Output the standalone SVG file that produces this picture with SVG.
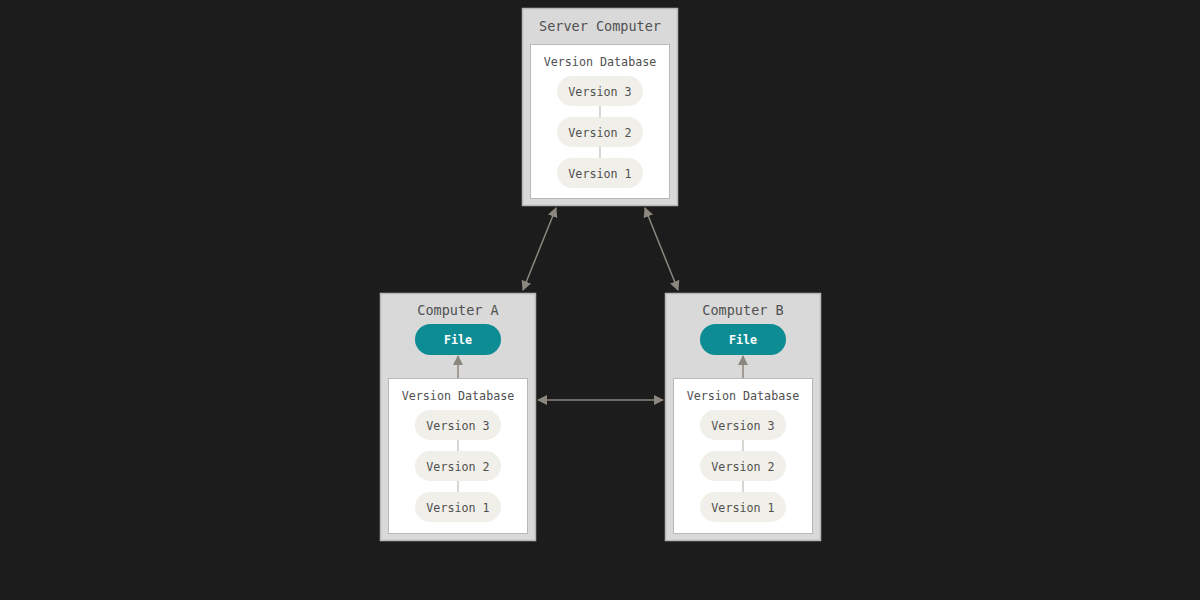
<svg xmlns="http://www.w3.org/2000/svg" width="1200" height="600" viewBox="0 0 1200 600">
  <style>
    .bg { fill: #1c1c1c; }
    .host { fill: #d9d9d9; stroke: #b8b8b8; stroke-width: 1.5; }
    .db { fill: #ffffff; stroke: #b8b8b8; stroke-width: 1; }
    .ver { fill: #f0efe9; }
    .file { fill: #0e8c94; }
    .link { stroke: #bdbab3; stroke-width: 1.2; }
    .conn { stroke: #8c877e; stroke-width: 1.5; fill: none; }
    text { font-family: "DejaVu Sans Mono", "Liberation Mono", monospace; fill: #505050; text-anchor: middle; }
    .title { font-size: 13.5px; }
    .label { font-size: 11.7px; }
    .ftext { font-size: 11.7px; font-weight: bold; fill: #ffffff; }
  </style>
  <defs>
    <marker id="arrowBig" viewBox="0 0 10 10" refX="9" refY="5" markerWidth="10" markerHeight="10" markerUnits="userSpaceOnUse" orient="auto-start-reverse">
      <path d="M0,0 L10,5 L0,10 z" fill="#8c877e"/>
    </marker>
  </defs>

  <rect class="bg" x="0" y="0" width="1200" height="600"/>

  <!-- central server -->
  <g id="server">
    <rect class="host" x="522.5" y="8.5" width="155" height="197"/>
    <text class="title" x="600" y="31">Server Computer</text>
    <rect class="db" x="530.5" y="44.5" width="139" height="154"/>
    <text class="label" x="600" y="65.5">Version Database</text>
    <line class="link" x1="600" y1="106" x2="600" y2="117"/>
    <line class="link" x1="600" y1="147" x2="600" y2="158"/>
    <rect class="ver" x="557" y="76" width="86" height="30" rx="15"/>
    <text class="label" x="600" y="95.5">Version 3</text>
    <rect class="ver" x="557" y="117" width="86" height="30" rx="15"/>
    <text class="label" x="600" y="136.5">Version 2</text>
    <rect class="ver" x="557" y="158" width="86" height="30" rx="15"/>
    <text class="label" x="600" y="177.5">Version 1</text>
  </g>

  <!-- client computer A -->
  <g id="computer-a">
    <rect class="host" x="380.5" y="293.5" width="155" height="247"/>
    <text class="title" x="458" y="315">Computer A</text>
    <rect class="file" x="415" y="324" width="86" height="31" rx="15.5"/>
    <text class="ftext" x="458" y="343.5">File</text>
    <rect class="db" x="388.5" y="378.5" width="139" height="155"/>
    <text class="label" x="458" y="400">Version Database</text>
    <line class="link" x1="458" y1="440" x2="458" y2="451"/>
    <line class="link" x1="458" y1="481" x2="458" y2="492"/>
    <rect class="ver" x="415" y="410" width="86" height="30" rx="15"/>
    <text class="label" x="458" y="429.5">Version 3</text>
    <rect class="ver" x="415" y="451" width="86" height="30" rx="15"/>
    <text class="label" x="458" y="470.5">Version 2</text>
    <rect class="ver" x="415" y="492" width="86" height="30" rx="15"/>
    <text class="label" x="458" y="511.5">Version 1</text>
  </g>

  <!-- client computer B -->
  <g id="computer-b">
    <rect class="host" x="665.5" y="293.5" width="155" height="247"/>
    <text class="title" x="743" y="315">Computer B</text>
    <rect class="file" x="700" y="324" width="86" height="31" rx="15.5"/>
    <text class="ftext" x="743" y="343.5">File</text>
    <rect class="db" x="673.5" y="378.5" width="139" height="155"/>
    <text class="label" x="743" y="400">Version Database</text>
    <line class="link" x1="743" y1="440" x2="743" y2="451"/>
    <line class="link" x1="743" y1="481" x2="743" y2="492"/>
    <rect class="ver" x="700" y="410" width="86" height="30" rx="15"/>
    <text class="label" x="743" y="429.5">Version 3</text>
    <rect class="ver" x="700" y="451" width="86" height="30" rx="15"/>
    <text class="label" x="743" y="470.5">Version 2</text>
    <rect class="ver" x="700" y="492" width="86" height="30" rx="15"/>
    <text class="label" x="743" y="511.5">Version 1</text>
  </g>

  <!-- connectors: sync between machines, checkout from each database to its working file -->
  <g id="connectors">
    <line class="conn" x1="556" y1="208" x2="523" y2="290" marker-start="url(#arrowBig)" marker-end="url(#arrowBig)"/>
    <line class="conn" x1="645" y1="208" x2="678" y2="290" marker-start="url(#arrowBig)" marker-end="url(#arrowBig)"/>
    <line class="conn" x1="538" y1="400" x2="663" y2="400" marker-start="url(#arrowBig)" marker-end="url(#arrowBig)"/>
    <line class="conn" x1="458" y1="378" x2="458" y2="356" marker-end="url(#arrowBig)"/>
    <line class="conn" x1="743" y1="378" x2="743" y2="356" marker-end="url(#arrowBig)"/>
  </g>
</svg>
